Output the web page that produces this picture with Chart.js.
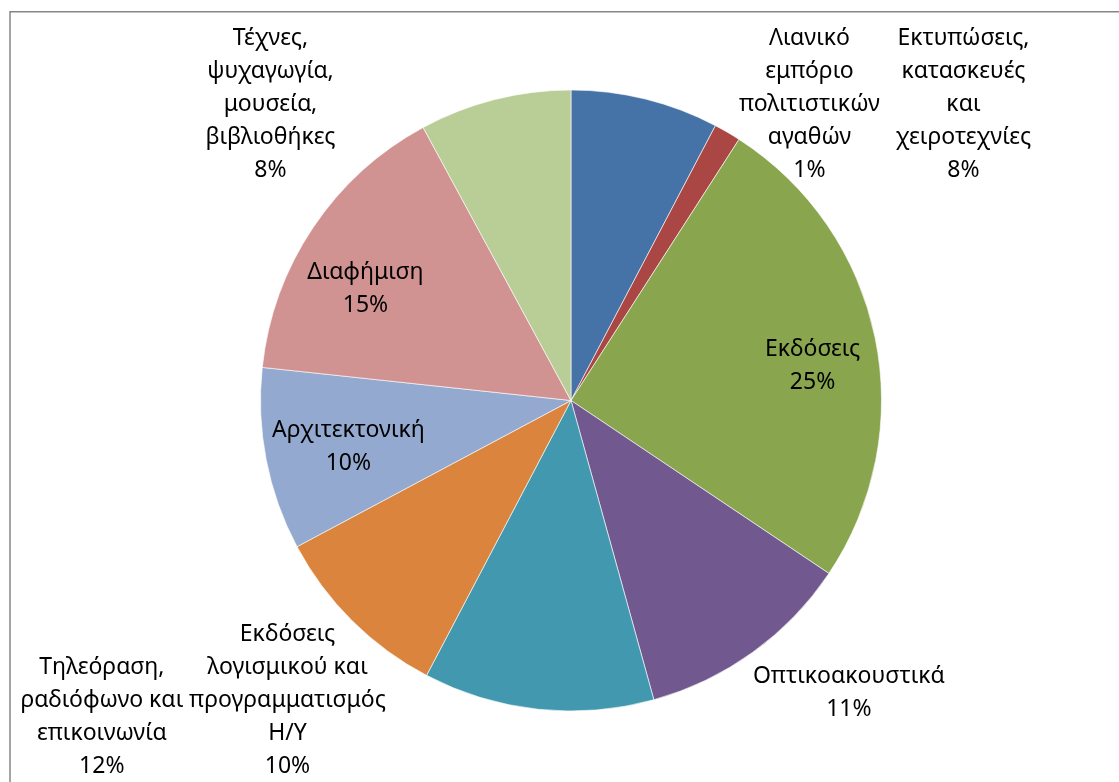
<!DOCTYPE html>
<html>
<head>
<meta charset="utf-8">
<script src="https://cdn.jsdelivr.net/npm/chart.js@4/dist/chart.umd.min.js"></script>
<style>
  body { margin: 0; background: #fff; }
  .wrap { width: 1119px; height: 782px; position: relative; }
</style>
</head>
<body>
<div class="wrap"><canvas id="pieChart"></canvas></div>
<script>
// categories (as wrapped in the original labels)
const categories = [
  ['Εκτυπώσεις,', 'κατασκευές', 'και', 'χειροτεχνίες'],
  ['Λιανικό', 'εμπόριο', 'πολιτιστικών', 'αγαθών'],
  ['Εκδόσεις'],
  ['Οπτικοακουστικά'],
  ['Τηλεόραση,', 'ραδιόφωνο και', 'επικοινωνία'],
  ['Εκδόσεις', 'λογισμικού και', 'προγραμματισμός', 'Η/Υ'],
  ['Αρχιτεκτονική'],
  ['Διαφήμιση'],
  ['Τέχνες,', 'ψυχαγωγία,', 'μουσεία,', 'βιβλιοθήκες']
];

// share of each sector (%)
const values = [7.7, 1.4, 25.3, 11.3, 12.0, 9.5, 9.5, 15.4, 7.9];

const colors = ['#4572A7', '#AA4643', '#89A54E', '#71588F', '#4198AF',
                '#DB843D', '#93A9CF', '#D19392', '#B9CD96'];

// where each label block sits, relative to pie centre, in units of the radius
const labelOffsets = [
  [1.264, -0.954], [0.768, -0.954], [0.778, -0.111],
  [0.895, 0.941], [-1.511, 1.019], [-0.913, 0.966],
  [-0.717, 0.150], [-0.662, -0.359], [-0.968, -0.954]
];

const total = Math.round(values.reduce((a, b) => a + b, 0) * 10) / 10;

// frame line at top and left
const framePlugin = {
  id: 'frame',
  beforeDraw(chart) {
    const ctx = chart.ctx;
    ctx.save();
    ctx.strokeStyle = '#868686';
    ctx.lineWidth = 1.5;
    ctx.beginPath();
    ctx.moveTo(10, chart.height);
    ctx.lineTo(10, 11.75);
    ctx.lineTo(chart.width, 11.75);
    ctx.stroke();
    ctx.restore();
  }
};

// data labels: name + percentage
const labelPlugin = {
  id: 'pieLabels',
  afterDatasetsDraw(chart) {
    const ctx = chart.ctx;
    const arcs = chart.getDatasetMeta(0).data;
    const lineH = 33;
    ctx.save();
    ctx.font = '23px "Noto Sans"';
    ctx.fillStyle = '#000';
    ctx.textAlign = 'center';
    ctx.textBaseline = 'middle';
    arcs.forEach((arc, i) => {
      const r = arc.outerRadius;
      const cx = arc.x + labelOffsets[i][0] * r;
      const cy = arc.y + labelOffsets[i][1] * r;
      const lines = categories[i].concat([Math.round(values[i] * 100 / total) + '%']);
      const top = cy - (lines.length - 1) * lineH / 2;
      lines.forEach((t, j) => ctx.fillText(t, cx, top + j * lineH));
    });
    ctx.restore();
  }
};

const ctx = document.getElementById('pieChart').getContext('2d');
const chart = new Chart(ctx, {
  type: 'pie',
  data: {
    labels: categories,
    datasets: [{
      data: values,
      backgroundColor: colors,
      borderColor: 'rgba(255,255,255,0.6)',
      borderWidth: 1
    }]
  },
  options: {
    responsive: true,
    maintainAspectRatio: false,
    animation: false,
    layout: { padding: { left: 260, right: 237, top: 89, bottom: 70 } },
    plugins: {
      legend: { display: false },
      tooltip: { enabled: false }
    }
  },
  plugins: [framePlugin, labelPlugin]
});
</script>
</body>
</html>
